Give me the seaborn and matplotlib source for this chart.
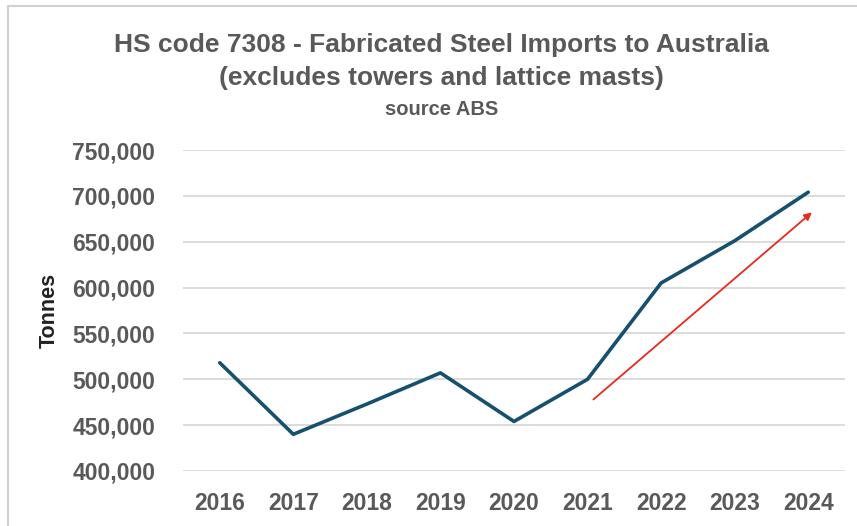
import numpy as np
import pandas as pd
import matplotlib.pyplot as plt
import matplotlib.ticker as mticker
from matplotlib.lines import Line2D
import seaborn as sns

# data (tonnes)
years = [2016, 2017, 2018, 2019, 2020, 2021, 2022, 2023, 2024]
tonnes = [518000, 440000, 473000, 507000, 454000, 500000, 605000, 651000, 704000]
y_ticks = [400000, 450000, 500000, 550000, 600000, 650000, 700000, 750000]
arrow_start = (2021.08, 478000)
arrow_end = (2024.05, 682000)

df = pd.DataFrame({'Year': years, 'Tonnes': tonnes})

sns.set_style('white')
plt.rcParams['font.family'] = ['Liberation Sans', 'DejaVu Sans']

fig = plt.figure(figsize=(8.57, 5.26), dpi=100)
ax = fig.add_axes([0.2135, 0.1046, 0.7725, 0.6102])

sns.lineplot(data=df, x='Year', y='Tonnes', ax=ax, color='#17506F', linewidth=2.6)

ax.annotate('', xy=arrow_end, xytext=arrow_start,
            arrowprops=dict(arrowstyle='-|>', color='#E8291C', lw=1.3,
                            mutation_scale=11, shrinkA=0, shrinkB=0))

ax.set_xlim(2015.5, 2024.5)
ax.set_ylim(400000, 750000)
ax.set_xticks(years)
ax.set_yticks(y_ticks)
ax.yaxis.set_major_formatter(mticker.FuncFormatter(lambda v, p: f'{int(v):,}'))
ax.grid(axis='y', color='#D9D9D9', linewidth=1.3)
ax.set_axisbelow(True)
for s in ax.spines.values():
    s.set_visible(False)
ax.tick_params(axis='both', length=0, labelsize=16.5, labelcolor='#595959')
ax.tick_params(axis='y', pad=20)
ax.tick_params(axis='x', pad=15)
for lab in ax.get_xticklabels() + ax.get_yticklabels():
    lab.set_fontweight('bold')

ax.set_xlabel('')
ax.set_ylabel('Tonnes', fontsize=15.5, fontweight='bold', color='#222222')
ax.yaxis.set_label_coords(-0.186, 0.5)

fig.text(0.515, 0.914, 'HS code 7308 - Fabricated Steel Imports to Australia',
         ha='center', va='center', fontsize=19, fontweight='bold', color='#595959')
fig.text(0.515, 0.851, '(excludes towers and lattice masts)',
         ha='center', va='center', fontsize=19, fontweight='bold', color='#595959')
fig.text(0.515, 0.791, 'source ABS',
         ha='center', va='center', fontsize=14.5, fontweight='bold', color='#595959')

# light frame along top and left edges
fig.add_artist(Line2D([0.009, 1.0], [0.988, 0.988], color='#D0D0D0', lw=1.5, transform=fig.transFigure))
fig.add_artist(Line2D([0.009, 0.009], [0.0, 0.988], color='#D0D0D0', lw=1.5, transform=fig.transFigure))

fig.savefig('out.png', dpi=100)
